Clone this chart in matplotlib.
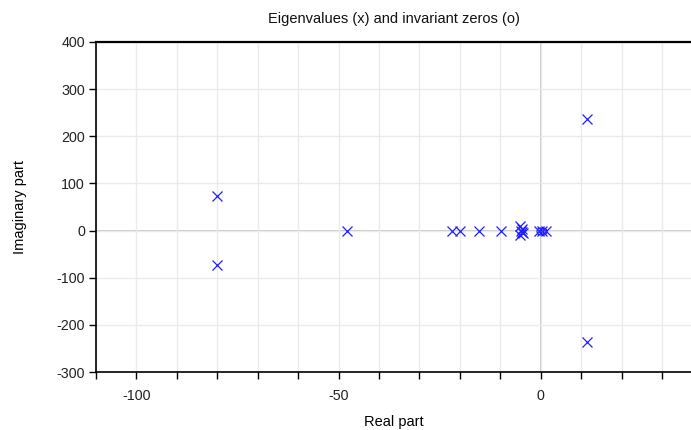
import matplotlib
matplotlib.use("Agg")
import matplotlib.pyplot as plt
from matplotlib.ticker import MultipleLocator

# eigenvalues (x markers)
eig_re = [-80.0, -80.0, -47.8, -22.0, -20.0, -15.3, -9.9,
          -5.2, -5.2, -4.6, -4.6, -5.0, -4.4, -0.5, 0.3, 1.2, 11.5, 11.5]
eig_im = [74.0, -74.0, 0.0, 0.0, 0.0, 0.0, 0.0,
          9.0, -9.0, 4.0, -4.0, 0.0, -6.0, 0.0, 0.0, 0.0, 236.0, -236.0]
# invariant zeros (o markers)
zero_re = [-0.2, 0.6]
zero_im = [0.0, 0.0]

plt.rcParams['font.family'] = ['Liberation Sans', 'DejaVu Sans']
plt.rcParams['axes.unicode_minus'] = False

fig = plt.figure(figsize=(6.91, 4.3), dpi=100)
ax = fig.add_axes([96/691, 58/430, 1 - 96/691 + 0.002, (372-42)/430])

ax.set_xlim(-110, 37.5)
ax.set_ylim(-300, 400)
ax.xaxis.set_major_locator(MultipleLocator(50))
ax.xaxis.set_minor_locator(MultipleLocator(10))
ax.yaxis.set_major_locator(MultipleLocator(100))

ax.grid(True, which='both', axis='x', color='#ebebeb', linewidth=1.0, zorder=0)
ax.grid(True, which='major', axis='y', color='#ebebeb', linewidth=1.0, zorder=0)
ax.axhline(0, color='#c0c0c0', linewidth=1.2, zorder=1)
ax.axvline(0, color='#c0c0c0', linewidth=1.2, zorder=1)

ax.plot(eig_re, eig_im, linestyle='none', marker='x', markersize=7,
        markeredgewidth=0.9, color='#2020ff', zorder=3)
ax.plot(zero_re, zero_im, linestyle='none', marker='o', markersize=5,
        markerfacecolor='none', markeredgewidth=0.9, color='#2020ff', zorder=3)

ax.spines['right'].set_visible(False)
ax.spines['top'].set_linewidth(1.6)
ax.spines['bottom'].set_linewidth(1.2)
ax.spines['left'].set_linewidth(1.2)

ax.tick_params(which='both', direction='out', length=5, width=1, labelsize=10.3,
               colors='black', pad=7)
ax.tick_params(axis='y', pad=3)
for lab in ax.get_xticklabels() + ax.get_yticklabels():
    lab.set_color('#222222')

ax.set_title('Eigenvalues (x) and invariant zeros (o)', fontsize=10.5, pad=14,
             color='#111111')
ax.set_xlabel('Real part', fontsize=10.5, labelpad=9)
ax.set_ylabel('Imaginary part', fontsize=10.5, labelpad=21)

fig.savefig('out.png', dpi=100)
